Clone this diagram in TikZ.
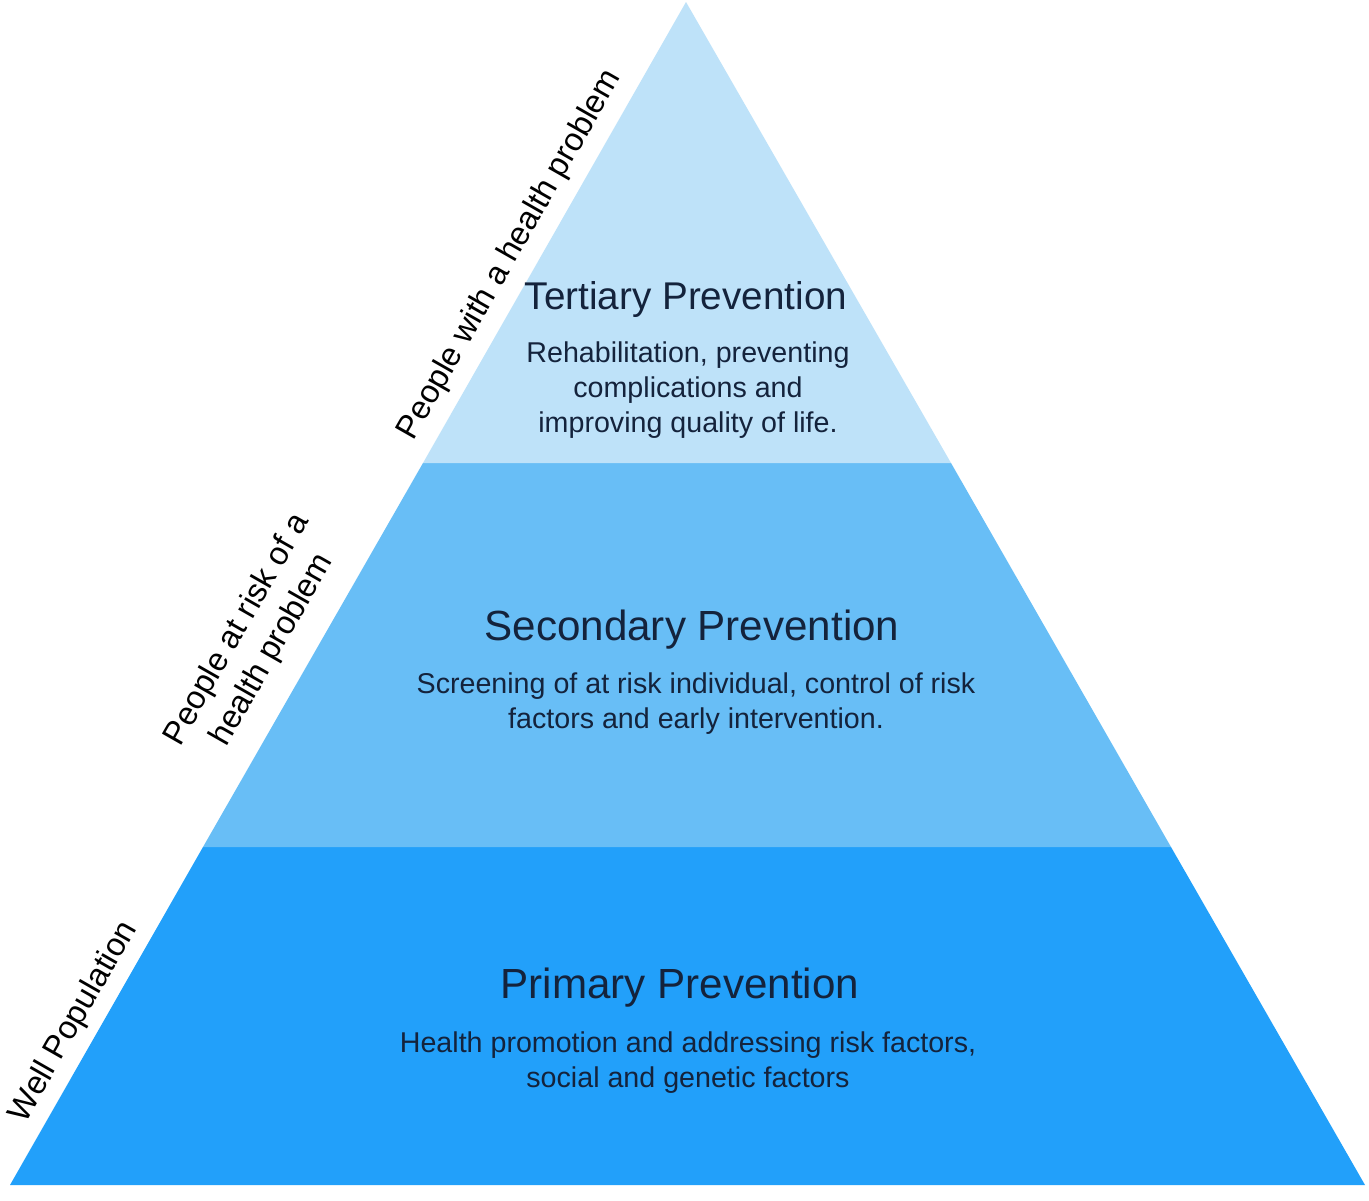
\documentclass[tikz,border=0pt]{standalone}
\usepackage{fontspec}
\setmainfont{Liberation Sans}
\definecolor{tierthree}{RGB}{190,226,249}
\definecolor{tiertwo}{RGB}{104,190,246}
\definecolor{tierone}{RGB}{34,160,250}
\definecolor{labeltext}{RGB}{20,35,60}
\tikzset{
  heading/.style={font=\fontsize{24}{28}\selectfont, text=labeltext},
  detail/.style={font=\fontsize{16.3}{20}\selectfont, text=labeltext, align=center},
  sidelabel/.style={font=\fontsize{18.5}{23}\selectfont, rotate=60.3, align=center}
}
\begin{document}
\begin{tikzpicture}[x=0.02cm, y=-0.02cm]
  \useasboundingbox (0,0) rectangle (1369,1200);
  \fill[white] (0,0) rectangle (1369,1200);
  % tiers
  \fill[tierone] (10,1185) -- (1365,1185) -- (1171,847) -- (203,847) -- cycle;
  \fill[tiertwo] (203,847) -- (1171,847) -- (951,463) -- (423,463) -- cycle;
  \fill[tierthree] (423,463) -- (951,463) -- (686,2) -- cycle;
  % tier texts
  \node[heading, font=\fontsize{22}{26}\selectfont] (tertiary) at (686,300) {Tertiary Prevention};
  \node[detail] (tertiarytext) at (688,390) {Rehabilitation, preventing\\complications and\\improving quality of life.};
  \node[heading] (secondary) at (692,630) {Secondary Prevention};
  \node[detail] (secondarytext) at (696,704) {Screening of at risk individual, control of risk\\factors and early intervention.};
  \node[heading] (primary) at (680,988) {Primary Prevention};
  \node[detail] (primarytext) at (688,1063) {Health promotion and addressing risk factors,\\social and genetic factors};
  % side labels
  \node[sidelabel] (sick) at (510,255) {People with a health problem};
  \node[sidelabel] (risk) at (255,640) {People at risk of a\\health problem};
  \node[sidelabel] (well) at (74,1022) {Well Population};
\end{tikzpicture}
\end{document}
